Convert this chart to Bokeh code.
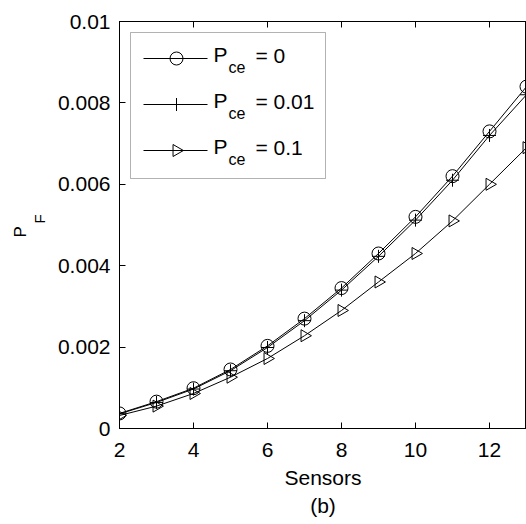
from bokeh.plotting import figure
from bokeh.models import (ColumnDataSource, FixedTicker, LinearAxis, Label,
                          Range1d, BoxAnnotation, Title)
from bokeh.embed import file_html
from bokeh.resources import INLINE
import math

# False-alarm probability P_F against the number of sensors
sensors = [2, 3, 4, 5, 6, 7, 8, 9, 10, 11, 12, 13]
pf_pce_0 = [0.00037, 0.00066, 0.00099, 0.00145, 0.00203, 0.0027, 0.00345,
            0.0043, 0.0052, 0.0062, 0.0073, 0.0084]
pf_pce_001 = [0.00036, 0.00064, 0.00097, 0.00142, 0.00199, 0.00265, 0.0034,
              0.00423, 0.00512, 0.0061, 0.0072, 0.0082]
pf_pce_01 = [0.00032, 0.00055, 0.00086, 0.00126, 0.00172, 0.00228, 0.0029,
             0.0036, 0.0043, 0.0051, 0.006, 0.0069]
pce_labels = ["0", "0.01", "0.1"]

x_ticks = [2, 4, 6, 8, 10, 12]
y_ticks = [0, 0.002, 0.004, 0.006, 0.008, 0.01]
y_tick_labels = ["0", "0.002", "0.004", "0.006", "0.008", "0.01"]

FONT = "Liberation Sans"
X0, X1, Y0, Y1 = 2, 13, 0, 0.01
W, H = 526, 524
LEFT, TOP, BOTTOM = 119, 21, 96
FRAME_W = W - LEFT
FRAME_H = H - TOP - BOTTOM

p = figure(width=W, height=H, output_backend="svg", toolbar_location=None,
           x_range=Range1d(X0, X1), y_range=Range1d(Y0, Y1),
           min_border_left=LEFT, min_border_right=0, min_border_top=TOP,
           min_border_bottom=BOTTOM)
p.background_fill_color = "white"
p.border_fill_color = "white"
p.outline_line_color = "black"
p.grid.visible = False

for ax in (p.xaxis[0], p.yaxis[0]):
    ax.major_tick_in = 6
    ax.major_tick_out = 0
    ax.minor_tick_line_color = None
    ax.axis_line_color = "black"
    ax.major_tick_line_color = "black"
    ax.major_label_text_font = FONT
    ax.major_label_text_font_size = "21px"
    ax.major_label_text_color = "black"

p.xaxis.ticker = FixedTicker(ticks=x_ticks)
p.xaxis.major_label_standoff = 14
p.xaxis.axis_label = "Sensors"
p.xaxis.axis_label_text_font = FONT
p.xaxis.axis_label_text_font_size = "21px"
p.xaxis.axis_label_text_font_style = "normal"
p.xaxis.axis_label_text_color = "black"
p.xaxis.axis_label_standoff = 6

p.yaxis.ticker = FixedTicker(ticks=y_ticks)
p.yaxis.major_label_overrides = {t: s for t, s in zip(y_ticks, y_tick_labels)}
p.yaxis.major_label_standoff = 9

# inward ticks along the top edge, no labels
top = LinearAxis(ticker=FixedTicker(ticks=x_ticks), major_tick_in=6,
                 major_tick_out=0, minor_tick_line_color=None,
                 major_label_overrides={t: "" for t in x_ticks},
                 major_label_standoff=0, axis_line_color="black")
p.add_layout(top, "above")

# y-axis title P_F: subscript nearest the axis, then the P
p.add_layout(Title(text="F", text_font=FONT, text_font_size="15px",
                   text_font_style="normal", text_color="black",
                   align="left", offset=205, standoff=14), "left")
p.add_layout(Title(text="P", text_font=FONT, text_font_size="17px",
                   text_font_style="normal", text_color="black",
                   align="left", offset=191, standoff=-17), "left")

# panel caption under the x-axis title
p.add_layout(Title(text="(b)", text_font=FONT, text_font_size="21px",
                   text_font_style="normal", text_color="black",
                   align="center", standoff=0), "below")

markers = [("circle", 0.0, 13), ("cross", 0.0, 13), ("triangle", -math.pi / 2, 12)]
series = [pf_pce_0, pf_pce_001, pf_pce_01]

for vals, (marker, ang, size) in zip(series, markers):
    src = ColumnDataSource(dict(x=sensors, y=vals))
    p.line("x", "y", source=src, line_color="black", line_width=1)
    p.scatter("x", "y", source=src, marker=marker, size=size, angle=ang,
              fill_color=None, line_color="black", line_width=1)


# legend, laid out in canvas pixels
def px_x(px):
    return X0 + (px - LEFT) / FRAME_W * (X1 - X0)


def px_y(py):
    return Y0 + (TOP + FRAME_H - py) / FRAME_H * (Y1 - Y0)


BOX_L, BOX_R, BOX_T, BOX_B = 130, 325, 32, 178
p.add_layout(BoxAnnotation(left=BOX_L - LEFT, right=BOX_R - LEFT,
                           top=TOP + FRAME_H - BOX_T,
                           bottom=TOP + FRAME_H - BOX_B,
                           left_units="screen", right_units="screen",
                           top_units="screen", bottom_units="screen",
                           fill_color=None, fill_alpha=0,
                           line_color="black", line_width=1))

KEY_L, KEY_R, KEY_M = 143, 207, 176
ROW0, ROW_STEP = 58, 46
for i, ((marker, ang, size), val) in enumerate(zip(markers, pce_labels)):
    cy = ROW0 + ROW_STEP * i
    p.line([px_x(KEY_L), px_x(KEY_R)], [px_y(cy), px_y(cy)],
           line_color="black", line_width=1)
    p.scatter([px_x(KEY_M)], [px_y(cy)], marker=marker, size=size, angle=ang,
              fill_color=None, line_color="black", line_width=1)
    p.add_layout(Label(x=213 - LEFT, y=TOP + FRAME_H - (cy - 4),
                       x_units="screen", y_units="screen", text="P",
                       text_font=FONT, text_font_size="21px",
                       text_color="black", text_baseline="middle",
                       text_align="left"))
    p.add_layout(Label(x=228 - LEFT, y=TOP + FRAME_H - (cy + 9),
                       x_units="screen", y_units="screen", text="ce",
                       text_font=FONT, text_font_size="16px",
                       text_color="black", text_baseline="middle",
                       text_align="left"))
    p.add_layout(Label(x=255 - LEFT, y=TOP + FRAME_H - (cy - 3),
                       x_units="screen", y_units="screen", text="= " + val,
                       text_font=FONT, text_font_size="21px",
                       text_color="black", text_baseline="middle",
                       text_align="left"))

open("out.html", "w").write(file_html(p, INLINE))
